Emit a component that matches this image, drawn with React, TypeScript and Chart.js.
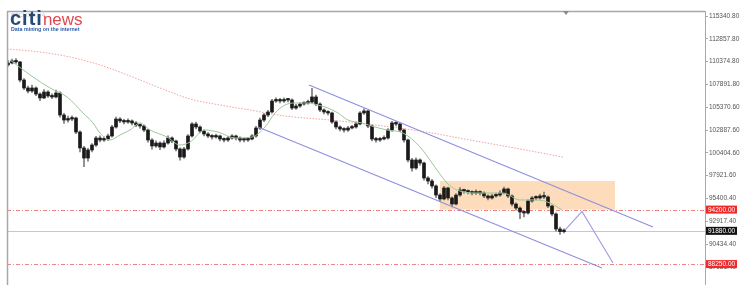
import React, { useEffect, useRef } from "react";
import { Chart, registerables } from "chart.js";
Chart.register(...registerables);

// ---- candles (H4, oldest -> newest) ----
const opens = [110000,110210,110430,110320,108350,107480,107150,107480,106820,106390,
107040,106610,106500,106930,104530,103980,104090,104200,102670,100930,
99830,100710,101250,102020,101800,101910,102240,103220,104090,103880,
103770,103880,103660,103440,103330,102890,101800,101150,101470,101040,
101470,102020,101690,100820,99940,100820,102240,103550,103220,102780,
102460,102240,102130,102240,101910,101800,102020,102240,102020,101800,
101800,101910,102240,103110,103980,104530,104860,106060,106170,106060,
106170,106170,105290,105510,105730,105840,105950,106500,105730,105080,
104860,104750,103770,103220,103000,102890,103110,103220,103550,104750,
104970,103330,101910,101800,101910,102020,102890,103660,103550,102890,
101800,99620,98740,99620,99290,97650,97320,96780,95790,95360,
96560,95470,94810,95790,96340,96230,96120,96010,96120,96010,
95690,95470,95690,95790,96010,96450,95690,94810,94370,93940,
93830,95140,95470,95470,95690,95580,94590,93720,92080,91800];
const highs = [110500,110650,110700,110400,108500,107700,107800,107600,106950,107300,
107200,106850,107250,107050,104700,104400,104450,104300,102800,101100,
100900,101400,102200,102250,102150,102450,103400,104300,104250,104050,
104100,104000,103800,103600,103450,103000,101950,101700,101600,101700,
102250,102150,101800,100950,101000,102400,103700,103750,103350,102900,
102600,102400,102450,102350,102050,102200,102400,102350,102150,102000,
102100,102400,103300,104200,104700,105050,106250,106400,106350,106400,
106350,106300,105700,105900,106000,106150,107450,106700,105850,105200,
105000,104850,103900,103350,103150,103300,103400,103750,104900,105200,
105050,103450,102100,102100,102250,103050,103850,103800,103650,103000,
101900,99800,99850,99750,99400,97800,97500,96900,95950,96750,
96650,95600,95950,96600,96450,96350,96250,96350,96250,96150,
95800,95900,96000,96250,96650,96550,95800,94950,94500,94100,
95300,95650,95700,95900,96100,95700,94700,93850,92300,92100];
const lows = [109850,110100,110150,108150,107300,106950,107000,106650,106100,106300,
106450,106300,106400,104300,103600,103750,103900,102500,100500,98900,
99500,100500,101100,101600,101650,101750,102100,103100,103700,103550,
103600,103450,103250,103100,102700,101550,100800,101000,100750,100900,
101350,101500,100600,99600,99800,100700,102100,103000,102600,102250,
102050,101900,102000,101700,101600,101650,101900,101800,101600,101600,
101650,101800,102100,102950,103800,104350,104750,105900,105850,105900,
105950,105100,105150,105350,105600,105700,105850,105550,104900,104650,
104550,103600,103000,102800,102650,102750,103000,103100,103450,104600,
103150,101700,101550,101650,101800,101900,102750,103350,102700,101550,
99400,98400,98600,99050,97400,97000,96550,95500,95100,95250,
95250,94500,94700,95650,96000,95900,95800,95850,95800,95500,
95250,95350,95550,95650,95900,95500,94600,94150,93200,93400,
93700,95000,95250,95350,95400,94400,93500,91850,91500,91650];
const closes = [110210,110430,110320,108350,107480,107150,107480,106820,106390,107040,
106610,106500,106930,104530,103980,104090,104200,102670,100930,99830,
100710,101250,102020,101800,101910,102240,103220,104090,103880,103770,
103880,103660,103440,103330,102890,101800,101150,101470,101040,101470,
102020,101690,100820,99940,100820,102240,103550,103220,102780,102460,
102240,102130,102240,101910,101800,102020,102240,102020,101800,101800,
101910,102240,103110,103980,104530,104860,106060,106170,106060,106170,
106170,105290,105510,105730,105840,105950,106500,105730,105080,104860,
104750,103770,103220,103000,102890,103110,103220,103550,104750,104970,
103330,101910,101800,101910,102020,102890,103660,103550,102890,101800,
99620,98740,99620,99290,97650,97320,96780,95790,95360,96560,
95470,94810,95790,96340,96230,96120,96010,96120,96010,95690,
95470,95690,95790,96010,96450,95690,94810,94370,93940,93830,
95140,95470,95470,95690,95580,94590,93720,92080,91800,91880];

// ---- moving averages (bar index, price) ----
const ma20X = [0.5,6.25,10.5,14.75,18.75,21.25,23,25.5,28,30.5,33,35.5,39.75,43,45.5,49.25,52.5,56.75,61,64.25,66.75,69.25,71.75,75,77.5,80,82.5,85,88.5,91.75,94.75,98.75,103,107.25,109.75,112.25,118,123.75,128,132.25,135.5,138.5];
const ma20Y = [110540,108680,107480,106500,104750,103660,102560,101800,102350,102890,103660,102890,102130,101250,101580,102890,102670,102020,102130,103220,104750,105620,105840,105840,105620,105290,104750,103980,103660,103220,102890,102560,101040,98520,97100,96340,96010,96010,95250,95250,94920,94160];
const ma200X = [-0.25,8,15.5,23,30.5,38,45.5,53,60.5,69.25,80.5,91.75,103,115.5,128,138.75];
const ma200Y = [111740,111410,110860,109990,108790,107480,106280,105620,105080,104420,103980,103440,102780,101800,100820,99940];

// ---- drawings ----
const channelUpperX = [75.25, 161.25];
const channelUpperY = [107806, 92300];
const channelLowerX = [62.5, 148.5];
const channelLowerY = [103220, 87822];
const projectionX = [139.25, 143.5, 151.25];
const projectionY = [91970, 94000, 88370];
const zoneX = [108, 151.75];
const zoneY = [94200, 97320];
const supportLevel = 94200;
const currentPrice = 91880;
const targetLevel = 88250;

// ---- axis ----
const yTicks = [115340.8,112857.8,110374.8,107891.8,105370.6,102887.6,100404.6,97921.6,95400.4,92917.4,90434.4,87951.4];
const yMin = 85966;
const yMax = 115887;
const xMin = -0.25;
const xMax = 174.25;

const pts = (xs: number[], ys: number[]) => xs.map((x, i) => ({ x, y: ys[i] }));

const overlay = {
  id: "overlay",
  beforeDatasetsDraw(chart: any) {
    const { ctx, chartArea: a, scales } = chart;
    const x = scales.x, y = scales.y;
    ctx.save();
    const zx1 = x.getPixelForValue(zoneX[0]);
    const zx2 = x.getPixelForValue(zoneX[1]);
    const zy1 = y.getPixelForValue(zoneY[1]);
    const zy2 = y.getPixelForValue(zoneY[0]);
    ctx.fillStyle = "rgba(251, 206, 160, 0.72)";
    ctx.fillRect(zx1, zy1, zx2 - zx1, zy2 - zy1);
    const hline = (v: number, color: string, dash: number[]) => {
      const py = Math.round(y.getPixelForValue(v)) + 0.5;
      ctx.beginPath();
      ctx.setLineDash(dash);
      ctx.strokeStyle = color;
      ctx.lineWidth = 1;
      ctx.moveTo(a.left, py);
      ctx.lineTo(a.right, py);
      ctx.stroke();
    };
    hline(currentPrice, "#c8c8c8", []);
    hline(supportLevel, "rgba(235,90,90,0.75)", [4, 2, 1, 2]);
    hline(targetLevel, "rgba(235,90,90,0.75)", [4, 2, 1, 2]);
    ctx.setLineDash([]);
    ctx.restore();
  },
  afterDraw(chart: any) {
    const { ctx, chartArea: a, scales } = chart;
    const y = scales.y;
    ctx.save();
    ctx.strokeStyle = "#a8a8a8";
    ctx.lineWidth = 1.5;
    ctx.beginPath();
    ctx.moveTo(a.left, a.top + 0.5);
    ctx.lineTo(a.right, a.top + 0.5);
    ctx.moveTo(a.left + 0.5, a.top);
    ctx.lineTo(a.left + 0.5, a.bottom);
    ctx.stroke();
    // marker triangle at top
    ctx.fillStyle = "#8a8a8a";
    ctx.beginPath();
    ctx.moveTo(563, a.top);
    ctx.lineTo(569, a.top);
    ctx.lineTo(566, a.top + 4);
    ctx.closePath();
    ctx.fill();
    const box = (v: number, bg: string, text: string) => {
      const py = y.getPixelForValue(v);
      ctx.fillStyle = bg;
      ctx.fillRect(a.right + 1, py - 4, 31, 8);
      ctx.fillStyle = "#ffffff";
      ctx.font = "6.5px 'Liberation Sans'";
      ctx.textBaseline = "middle";
      ctx.textAlign = "left";
      ctx.fillText(text, a.right + 3, py + 0.5);
    };
    box(supportLevel, "#f02a2a", supportLevel.toFixed(2));
    box(currentPrice, "#111111", currentPrice.toFixed(2));
    box(targetLevel, "#f02a2a", targetLevel.toFixed(2));
    ctx.restore();
  },
};

export default function App() {
  const ref = useRef<HTMLCanvasElement>(null);
  useEffect(() => {
    const idx = closes.map((_, i) => i);
    const chart = new Chart(ref.current as HTMLCanvasElement, {
      type: "bar",
      data: {
        datasets: [
          {
            type: "line",
            label: "Channel upper",
            data: pts(channelUpperX, channelUpperY),
            borderColor: "#8e8ee0",
            borderWidth: 1.1,
            pointRadius: 0,
            order: 1,
          } as any,
          {
            type: "line",
            label: "Channel lower",
            data: pts(channelLowerX, channelLowerY),
            borderColor: "#8e8ee0",
            borderWidth: 1.1,
            pointRadius: 0,
            order: 1,
          } as any,
          {
            type: "line",
            label: "Projection",
            data: pts(projectionX, projectionY),
            borderColor: "#9a9ae4",
            borderWidth: 1.1,
            pointRadius: 0,
            order: 1,
          } as any,
          {
            type: "line",
            label: "MA20",
            data: pts(ma20X, ma20Y),
            borderColor: "#9cc79c",
            borderWidth: 1,
            pointRadius: 0,
            cubicInterpolationMode: "monotone",
            order: 2,
          } as any,
          {
            type: "bar",
            label: "Body",
            data: idx.map((i) => ({ x: i, y: [opens[i], closes[i]] })),
            backgroundColor: "#1a1a1a",
            barThickness: 3,
            minBarLength: 1.5,
            grouped: false,
            order: 3,
          } as any,
          {
            type: "bar",
            label: "Wick",
            data: idx.map((i) => ({ x: i, y: [lows[i], highs[i]] })),
            backgroundColor: "#7a7a7a",
            barThickness: 1,
            grouped: false,
            order: 4,
          } as any,
          {
            type: "line",
            label: "MA200",
            data: pts(ma200X, ma200Y),
            borderColor: "#f2a0a0",
            borderWidth: 1,
            borderDash: [1.5, 1.5],
            pointRadius: 0,
            cubicInterpolationMode: "monotone",
            order: 5,
          } as any,
        ],
      },
      options: {
        animation: false,
        responsive: false,
        devicePixelRatio: 1,
        layout: { autoPadding: false, padding: { top: 11, left: 7, right: 0, bottom: 0 } },
        plugins: { legend: { display: false }, tooltip: { enabled: false } },
        scales: {
          x: { type: "linear", min: xMin, max: xMax, offset: false, display: false },
          y: {
            type: "linear",
            position: "right",
            min: yMin,
            max: yMax,
            afterBuildTicks: (axis: any) => {
              axis.ticks = yTicks.map((v) => ({ value: v }));
            },
            afterFit: (axis: any) => {
              axis.width = 38;
              axis.paddingTop = 0;
              axis.paddingBottom = 0;
            },
            border: { display: true, color: "#a8a8a8", width: 1 },
            grid: { drawOnChartArea: false, drawTicks: true, tickLength: 3, color: "#a8a8a8" },
            ticks: {
              padding: 1,
              color: "#555555",
              font: { size: 6.5, family: "'Liberation Sans'" },
              callback: (v: any) => Number(v).toFixed(2),
            },
          },
        },
      } as any,
      plugins: [overlay],
    });
    return () => chart.destroy();
  }, []);

  return (
    <div style={{ position: "fixed", left: 0, top: 0, width: 743, height: 285, background: "#fff", overflow: "hidden" }}>
      <canvas ref={ref} width={743} height={285} style={{ display: "block" }} />
      <div style={{ position: "absolute", left: 11, top: 12, fontFamily: "'Liberation Sans'", fontSize: 6, color: "#c4c4c4" }}>BTCUSD,H4</div>
      <div style={{ position: "absolute", left: 10, top: 8, fontFamily: "'Liberation Sans'", lineHeight: 1, whiteSpace: "nowrap" }}>
        <span style={{ fontSize: 20, fontWeight: 700, color: "#24497a", letterSpacing: 1 }}>citi</span>
        <span style={{ fontSize: 17, color: "#e0484e" }}>news</span>
      </div>
      <div style={{ position: "absolute", left: 11, top: 26, fontFamily: "'Liberation Sans'", fontSize: 5.3, fontWeight: 700, color: "#2a5ca8", whiteSpace: "nowrap" }}>
        Data mining on the internet
      </div>
    </div>
  );
}
